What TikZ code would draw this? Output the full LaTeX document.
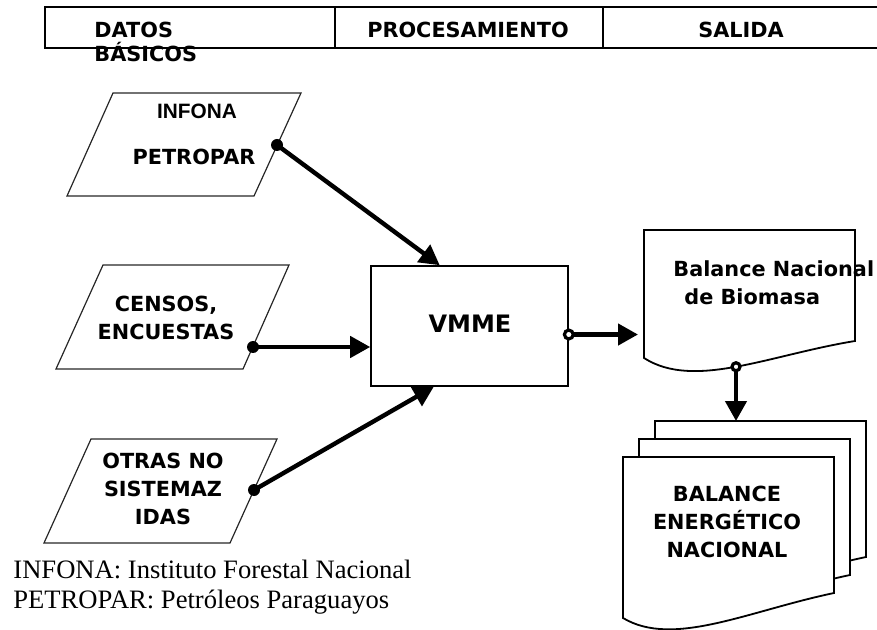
\documentclass[tikz,border=0pt]{standalone}
\usepackage{fontspec}
\setmainfont{Liberation Serif}
\newfontfamily\dejavu{DejaVu Sans}
\newfontfamily\arialfam{Liberation Sans}
\usetikzlibrary{arrows.meta,calc,positioning}

\tikzset{
  tabla/.style={line width=0.9pt},
  datos/.style={draw=black!85, line width=0.6pt},
  caja/.style={draw, line width=0.8pt, minimum width=98.5pt, minimum height=60pt, inner sep=0pt},
  hoja/.style={draw, fill=white, line width=0.9pt},
  texto/.style={font=\dejavu\bfseries\fontsize{10.4}{14}\selectfont, align=center, inner sep=0pt},
  flujo/.style={line width=2.2pt, -{Triangle[length=10pt,width=10.5pt]}},
  punto/.style={fill=black},
  hueco/.style={draw, fill=white, line width=1.6pt},
  nota/.style={font=\fontsize{13.3}{15}\selectfont, inner sep=0pt, anchor=base west}
}

\begin{document}
\begin{tikzpicture}[x=0.5pt,y=-0.5pt]
    \useasboundingbox (0,0) rectangle (877,630);
    % cabecera
    \draw[tabla] (877,7) -- (45,7) -- (45,48) -- (877,48);
    \draw[tabla] (335,7) -- (335,48);
    \draw[tabla] (603,7) -- (603,48);
    \node[texto, font=\dejavu\bfseries\fontsize{10.4}{12}\selectfont, align=left, anchor=north west] (datos) at (94,22) {DATOS\\BÁSICOS};
    \node[texto] (proceso) at (468,30) {PROCESAMIENTO};
    \node[texto] (salida) at (741,30) {SALIDA};

    % datos basicos
    \draw[datos] (113,93) -- (301,93) -- (254,196) -- (67,196) -- cycle;
    \node[texto, font=\arialfam\bfseries\fontsize{10.4}{14}\selectfont] (infona) at (197,111) {INFONA};
    \node[texto] (petropar) at (194,157) {PETROPAR};
    \coordinate (infonaSal) at (277,145);

    \draw[datos] (103,265) -- (289,265) -- (243,369) -- (56,369) -- cycle;
    \node[texto] (censos) at (166,318) {CENSOS,\\ENCUESTAS};
    \coordinate (censosSal) at (253,347);

    \draw[datos] (91,439) -- (277,439) -- (230,543) -- (44,543) -- cycle;
    \node[texto] (otras) at (163,489) {OTRAS NO\\SISTEMAZ\\IDAS};
    \coordinate (otrasSal) at (254,490);

    % procesamiento
    \node[caja] (vmme) at (469.5,326) {};
    \node[texto, font=\dejavu\bfseries\fontsize{12}{14}\selectfont] (vmmeTxt) at (470,324) {VMME};
    \coordinate (vmmeSal) at ($(vmme.north east)!0.57!(vmme.south east)$);

    % salida
    \draw[hoja] (644,230) -- ++(211,0) -- ++(0,111)
        .. controls +(-86,14) and +(50,32) .. ++(-211,17)
        coordinate[pos=0.5] (biomasaSal) -- cycle;
    \node[texto, align=left, anchor=north west] (biomasa) at (673,260) {Balance Nacional\\\hspace*{5.5pt}de Biomasa};

    \foreach \dx/\dy in {32/-36, 16/-18, 0/0}
        \draw[hoja] ($(623,457)+(\dx,\dy)$) -- ++(211,0) -- ++(0,136)
            .. controls +(-86,18) and +(50,30) .. ++(-211,25) -- cycle;
    \coordinate (hojaAtras) at (655,421);
    \node[texto] (energia) at (727,522) {BALANCE\\ENERGÉTICO\\NACIONAL};

    % flujos
    \draw[flujo] (infonaSal) -- ($(vmme.north west)!0.35!(vmme.north east)$);
    \draw[flujo] (censosSal) -- (censosSal -| vmme.west);
    \draw[flujo] (otrasSal) -- ($(vmme.south west)!0.32!(vmme.south east)$);
    \draw[flujo, shorten >=3pt] (vmmeSal) -- (vmmeSal -| 644,0);
    \draw[flujo] (biomasaSal) -- (biomasaSal |- hojaAtras);
    \fill[punto] (infonaSal) circle (3pt);
    \fill[punto] (censosSal) circle (3pt);
    \fill[punto] (otrasSal) circle (3pt);
    \draw[hueco] (vmmeSal) circle (2.2pt);
    \draw[hueco] (biomasaSal) circle (2pt);

    % notas
    \node[nota] (notaInfona) at (13,578) {INFONA: Instituto Forestal Nacional};
    \node[nota] (notaPetropar) at (13,608) {PETROPAR: Petróleos Paraguayos};
\end{tikzpicture}
\end{document}
